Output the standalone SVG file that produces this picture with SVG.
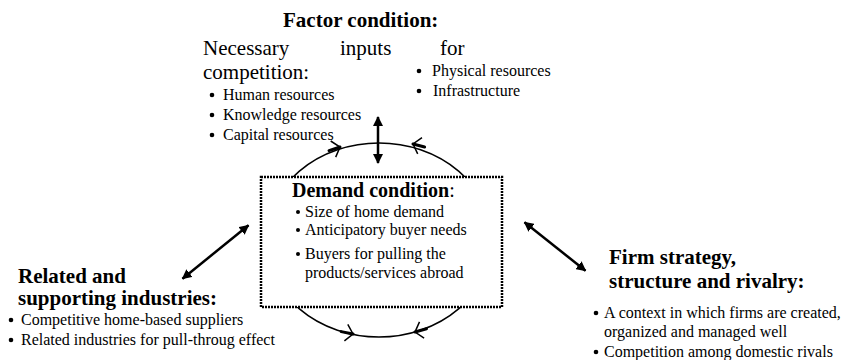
<svg xmlns="http://www.w3.org/2000/svg" width="841" height="360" viewBox="0 0 841 360">
<style>
text{fill:#000}
.h{font-weight:bold;font-size:21px}
.t{font-size:16px}
.big{font-size:21px}
.dot{fill:#000}
.cyc{fill:none;stroke:#000;stroke-width:1.5}
.ah{fill:none;stroke:#000;stroke-width:1.5;stroke-linejoin:miter}
.thk{stroke:#000;stroke-width:3;stroke-linecap:round}
.dbl{stroke:#000;stroke-width:2.5;marker-start:url(#tri);marker-end:url(#tri)}
</style>
<defs>
<marker id="tri" viewBox="0 0 10 10" refX="9" refY="5" markerWidth="4" markerHeight="4" orient="auto-start-reverse" markerUnits="strokeWidth">
<path d="M0,0 L10,5 L0,10 Z" fill="#000"/>
</marker>
</defs>
<g id="connectors">
<ellipse class="cyc" cx="379" cy="240" rx="113" ry="97"/>
<line class="thk" x1="340" y1="147" x2="329" y2="150.6"/>
<polyline class="ah" points="335.7,157.1 340,147 330.7,141"/>
<line class="thk" x1="413" y1="144" x2="424.6" y2="147"/>
<polyline class="ah" points="417.7,153.9 413,144 422,137.6"/>
<line class="thk" x1="353" y1="334" x2="341.2" y2="331.6"/>
<polyline class="ah" points="347.8,324.3 353,334 344.4,340.9"/>
<line class="thk" x1="415" y1="332" x2="426.5" y2="328.7"/>
<polyline class="ah" points="424.1,338.1 415,332 419.5,321.9"/>
<line class="dbl" x1="378" y1="117" x2="378" y2="163"/>
<line class="dbl" x1="248.5" y1="225.3" x2="182.5" y2="278.7"/>
<line class="dbl" x1="524.5" y1="222.3" x2="585.5" y2="270.7"/>
</g>
<g font-family="'Liberation Serif', 'Times New Roman', 'DejaVu Serif', serif">
<g id="demand">
<rect x="261" y="177" width="241" height="130" fill="#fff" stroke="#000" stroke-width="2.5" stroke-dasharray="2 1"/>
<text x="292" y="197"><tspan class="h" style="font-size:20px">Demand condition</tspan><tspan style="font-size:20px">:</tspan></text>
<circle class="dot" cx="298" cy="212" r="2"/>
<text class="t" x="305" y="217">Size of home demand</text>
<circle class="dot" cx="298" cy="230" r="2"/>
<text class="t" x="305" y="235">Anticipatory buyer needs</text>
<circle class="dot" cx="298" cy="254" r="2"/>
<text class="t" x="305" y="259">Buyers for pulling the</text>
<text class="t" x="305" y="278">products/services abroad</text>
</g>
<g id="factor">
<text class="h" x="283" y="27">Factor condition:</text>
<text class="big" y="55"><tspan x="203">Necessary</tspan><tspan x="340">inputs</tspan><tspan x="440">for</tspan></text>
<text class="big" x="203" y="79">competition:</text>
<circle class="dot" cx="212" cy="95" r="2.3"/>
<text class="t" x="223" y="100">Human resources</text>
<circle class="dot" cx="212" cy="115" r="2.3"/>
<text class="t" x="223" y="120">Knowledge resources</text>
<circle class="dot" cx="212" cy="135" r="2.3"/>
<text class="t" x="223" y="140">Capital resources</text>
<circle class="dot" cx="419" cy="71" r="2.3"/>
<text class="t" x="432" y="76">Physical resources</text>
<circle class="dot" cx="419" cy="91" r="2.3"/>
<text class="t" x="433" y="96">Infrastructure</text>
</g>
<g id="related">
<text class="h" x="18" y="283">Related and</text>
<text class="h" x="18" y="305">supporting industries:</text>
<circle class="dot" cx="11" cy="320" r="2.3"/>
<text class="t" x="21" y="325">Competitive home-based suppliers</text>
<circle class="dot" cx="11" cy="340" r="2.3"/>
<text class="t" x="21" y="345">Related industries for pull-throug effect</text>
</g>
<g id="firm">
<text class="h" x="609" y="264">Firm strategy,</text>
<text class="h" x="609" y="288">structure and rivalry:</text>
<circle class="dot" cx="596" cy="313" r="2.3"/>
<text class="t" x="604" y="318">A context in which firms are created,</text>
<text class="t" x="604" y="337">organized and managed well</text>
<circle class="dot" cx="596" cy="352" r="2.3"/>
<text class="t" x="604" y="357">Competition among domestic rivals</text>
</g>
</g>
</svg>
